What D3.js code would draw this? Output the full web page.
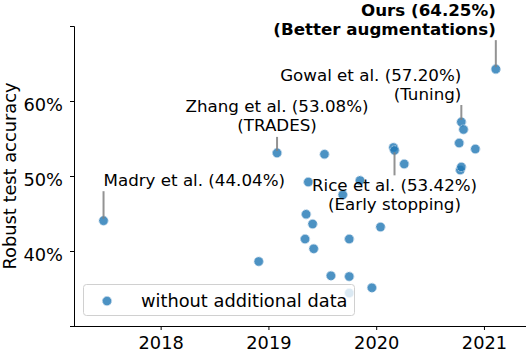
<!DOCTYPE html>
<html>
<head>
<meta charset="utf-8">
<script src="https://cdn.jsdelivr.net/npm/d3@7"></script>
<style>
  body { margin: 0; background: #fff; }
  svg { font-family: "DejaVu Sans", sans-serif; }
</style>
</head>
<body>
<svg id="chart" width="526" height="352"></svg>
<script>
// publication date (decimal year) and robust accuracy (%)
var years = [2017.47, 2019.08, 2021.11, 2020.79, 2020.81, 2020.77, 2020.92, 2020.16, 2020.17,
  2020.26, 2019.52, 2020.78, 2020.79, 2019.37, 2019.85, 2019.69, 2019.35, 2019.41, 2020.04,
  2019.34, 2019.75, 2019.42, 2018.91, 2019.58, 2019.75, 2019.96, 2019.75];
var accuracy = [44.04, 53.08, 64.25, 57.20, 56.2, 54.4, 53.6, 53.8, 53.42,
  51.6, 52.9, 50.8, 51.2, 49.2, 49.4, 47.5, 44.9, 43.6, 43.2,
  41.6, 41.6, 40.3, 38.6, 36.7, 36.6, 35.1, 34.4];

var labelNames = ["Madry et al. (44.04%)", "Zhang et al. (53.08%)", "Gowal et al. (57.20%)", "Rice et al. (53.42%)", "Ours (64.25%)"];
var labelNotes = ["", "(TRADES)", "(Tuning)", "(Early stopping)", "(Better augmentations)"];
var labelPoint = [0, 1, 3, 8, 2];

var xTicks = [2018, 2019, 2020, 2021];
var yTicks = [40, 50, 60];

var FONT = 17.8, ANNOT_FONT = 16.7;
var svg = d3.select('#chart');

var x = d3.scaleLinear().domain([2017.196, 2021.39]).range([74, 526]);
var y = d3.scaleLinear().domain([30, 70]).range([326, 26]);

// axes
var xAxis = d3.axisBottom(x).tickValues(xTicks).tickFormat(d3.format('d')).tickSize(4).tickPadding(6.5);
var yAxis = d3.axisLeft(y).tickValues(yTicks).tickFormat(function (d) { return d + '%'; }).tickSize(4).tickPadding(7);

var gx = svg.append('g').attr('transform', 'translate(0,' + y(30) + ')').call(xAxis);
var gy = svg.append('g').attr('transform', 'translate(' + x.range()[0] + ',0)').call(yAxis);
[gx, gy].forEach(function (g) {
  g.selectAll('path,line').attr('stroke', '#000').attr('stroke-width', 1);
  g.selectAll('text').attr('font-size', FONT).attr('font-family', 'DejaVu Sans').attr('fill', '#000');
});
gx.select('.domain').attr('d', 'M74,0.5H526');
gy.selectAll('text').attr('dy', '0.56em');

svg.append('text')
  .attr('transform', 'translate(15.5,' + y(50) + ') rotate(-90)')
  .attr('text-anchor', 'middle')
  .attr('font-size', FONT)
  .text('Robust test accuracy');

// points
var pts = years.map(function (d, i) { return { year: d, acc: accuracy[i] }; });
svg.append('g').selectAll('circle').data(pts).enter().append('circle')
  .attr('cx', function (d) { return x(d.year); })
  .attr('cy', function (d) { return y(d.acc); })
  .attr('r', 4.6)
  .attr('fill', '#1f77b4')
  .attr('fill-opacity', 0.8)
  .attr('stroke', '#b9d3e8')
  .attr('stroke-width', 1)
  .attr('stroke-dasharray', '2,1');

// annotations: baseline offset of the first text line from the point
var annot = [
  { anchor: 'start', dy: -35, up: true },
  { anchor: 'middle', dy: -40.5, up: true },
  { anchor: 'end', dy: -41.5, up: true },
  { anchor: 'middle', dy: 41, up: false },
  { anchor: 'end', dy: -53.5, up: true }
];
var LINE_GAP = 19;
annot.forEach(function (a, i) {
  var p = pts[labelPoint[i]];
  var px = x(p.year), py = y(p.acc);
  var lines = labelNotes[i] ? [labelNames[i], labelNotes[i]] : [labelNames[i]];
  var firstBase = py + a.dy;
  var lastBase = firstBase + (lines.length - 1) * LINE_GAP;
  var lineEnd = a.up ? lastBase + 5.5 : firstBase - 16;
  svg.append('line')
    .attr('x1', px).attr('x2', px)
    .attr('y1', py - (a.up ? 2 : -2)).attr('y2', lineEnd)
    .attr('stroke', '#808080').attr('stroke-opacity', 0.85).attr('stroke-width', 2);
  var t = svg.append('text')
    .attr('text-anchor', a.anchor)
    .attr('font-size', ANNOT_FONT)
    .attr('font-weight', i === 4 ? 'bold' : 'normal');
  lines.forEach(function (s, k) {
    t.append('tspan').attr('x', px).attr('y', firstBase + k * LINE_GAP).text(s);
  });
});

// legend
var lg = svg.append('g');
lg.append('rect').attr('x', 83.5).attr('y', 284.5).attr('width', 271).attr('height', 31)
  .attr('rx', 3).attr('fill', '#fff').attr('fill-opacity', 0.8).attr('stroke', '#d0d0d0');
lg.append('circle').attr('cx', 107).attr('cy', 301).attr('r', 4.6)
  .attr('fill', '#1f77b4').attr('fill-opacity', 0.8)
  .attr('stroke', '#b9d3e8').attr('stroke-dasharray', '2,1');
lg.append('text').attr('x', 141).attr('y', 306.5).attr('font-size', FONT)
  .text('without additional data');
</script>
</body>
</html>
